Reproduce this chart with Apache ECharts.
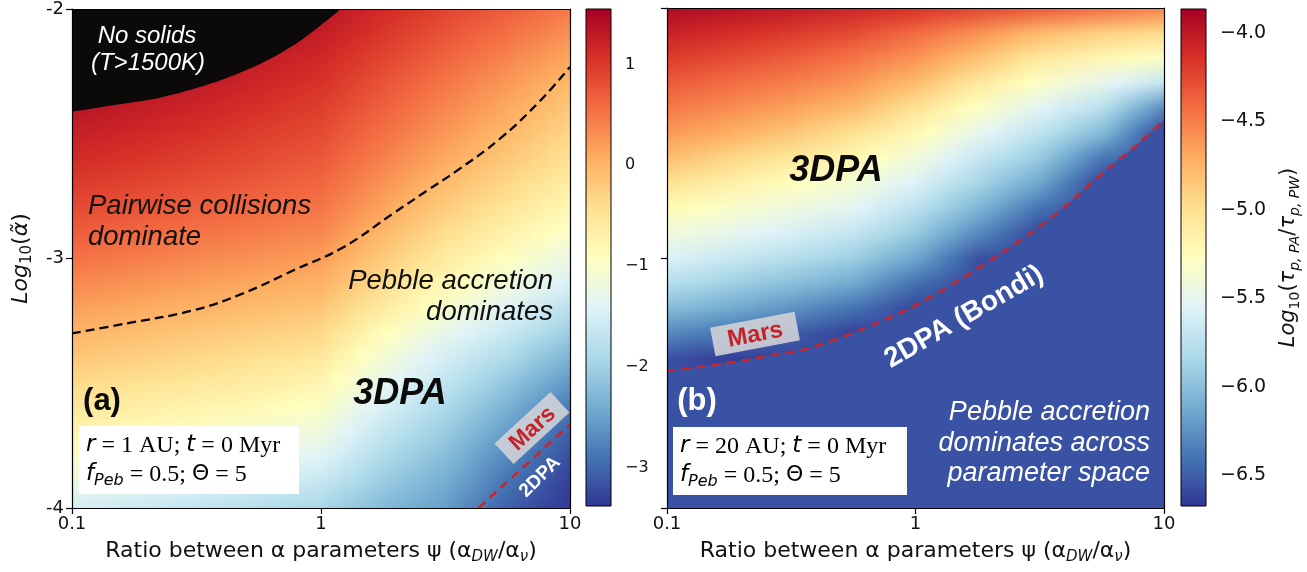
<!DOCTYPE html>
<html><head><meta charset="utf-8">
<script src="https://cdn.jsdelivr.net/npm/echarts@6.0.0/dist/echarts.min.js"></script>
<style>html,body{margin:0;padding:0;background:#fff;}#chart{width:1307px;height:572px;}</style>
</head><body><div id="chart"></div>
<script>
// ================= DATA =================
// log10(psi) columns of the sampled grid
const psiLogCols = [-1, -0.75, -0.5, -0.25, 0, 0.25, 0.5, 0.75, 1];
// log10(alpha) rows, top -> bottom
const alphaLogRows = [-2.0,-2.1,-2.2,-2.3,-2.4,-2.5,-2.6,-2.7,-2.8,-2.9,-3.0,-3.1,-3.2,-3.3,-3.4,-3.5,-3.6,-3.7,-3.8,-3.9,-4.0];

// Panel (a): log10(tau_PA/tau_PW), one list per psi column, values top -> bottom
const fieldA = [
  [1.66,1.60,1.53,1.44,1.34,1.23,1.11,0.98,0.84,0.69,0.53,0.36,0.18,0.00,-0.17,-0.36,-0.55,-0.77,-1.00,-1.25,-1.50],
  [1.60,1.53,1.46,1.36,1.26,1.15,1.03,0.90,0.76,0.61,0.45,0.28,0.10,-0.09,-0.26,-0.45,-0.65,-0.86,-1.09,-1.34,-1.60],
  [1.53,1.46,1.38,1.28,1.17,1.06,0.94,0.81,0.67,0.52,0.36,0.19,0.01,-0.17,-0.35,-0.54,-0.74,-0.95,-1.18,-1.43,-1.69],
  [1.44,1.36,1.26,1.16,1.06,0.95,0.84,0.72,0.59,0.44,0.28,0.11,-0.07,-0.25,-0.44,-0.63,-0.83,-1.04,-1.27,-1.53,-1.80],
  [1.35,1.25,1.14,1.04,0.94,0.84,0.73,0.62,0.50,0.36,0.20,0.03,-0.15,-0.35,-0.55,-0.76,-0.97,-1.18,-1.41,-1.66,-1.92],
  [1.12,1.01,0.89,0.77,0.66,0.54,0.42,0.28,0.14,-0.03,-0.20,-0.39,-0.60,-0.88,-1.10,-1.30,-1.49,-1.68,-1.87,-2.06,-2.25],
  [0.90,0.77,0.64,0.50,0.37,0.24,0.10,-0.06,-0.23,-0.41,-0.60,-0.80,-1.02,-1.30,-1.52,-1.70,-1.88,-2.06,-2.23,-2.39,-2.53],
  [0.69,0.54,0.38,0.23,0.10,-0.04,-0.18,-0.34,-0.52,-0.71,-0.92,-1.15,-1.39,-1.63,-1.88,-2.12,-2.34,-2.55,-2.74,-2.90,-3.05],
  [0.47,0.30,0.12,-0.04,-0.18,-0.32,-0.46,-0.62,-0.80,-1.00,-1.22,-1.48,-1.76,-2.04,-2.32,-2.60,-2.86,-3.05,-3.20,-3.30,-3.37]
];

// Panel (b): values top -> bottom (2DPA region below the boundary)
const fieldB = [
  [-3.92,-4.06,-4.20,-4.34,-4.48,-4.62,-4.79,-5.01,-5.21,-5.40,-5.57,-5.77,-6.01,-6.29,-6.55,-6.60,-6.60,-6.60,-6.60,-6.60,-6.60],
  [-3.97,-4.12,-4.27,-4.42,-4.56,-4.71,-4.93,-5.13,-5.32,-5.49,-5.67,-5.88,-6.11,-6.39,-6.63,-6.60,-6.60,-6.60,-6.60,-6.60,-6.60],
  [-4.02,-4.19,-4.35,-4.50,-4.65,-4.84,-5.05,-5.25,-5.42,-5.59,-5.78,-5.99,-6.24,-6.50,-6.60,-6.60,-6.60,-6.60,-6.60,-6.60,-6.60],
  [-4.08,-4.27,-4.45,-4.60,-4.77,-5.00,-5.19,-5.37,-5.52,-5.70,-5.90,-6.12,-6.40,-6.62,-6.60,-6.60,-6.60,-6.60,-6.60,-6.60,-6.60],
  [-4.15,-4.41,-4.59,-4.78,-5.01,-5.21,-5.40,-5.57,-5.75,-5.93,-6.14,-6.41,-6.60,-6.60,-6.60,-6.60,-6.60,-6.60,-6.60,-6.60,-6.60],
  [-4.24,-4.58,-4.81,-5.06,-5.29,-5.49,-5.68,-5.85,-6.05,-6.28,-6.55,-6.60,-6.60,-6.60,-6.60,-6.60,-6.60,-6.60,-6.60,-6.60,-6.60],
  [-4.33,-4.77,-5.06,-5.30,-5.53,-5.73,-5.93,-6.14,-6.40,-6.60,-6.60,-6.60,-6.60,-6.60,-6.60,-6.60,-6.60,-6.60,-6.60,-6.60,-6.60],
  [-4.42,-4.90,-5.19,-5.49,-5.76,-6.03,-6.37,-6.60,-6.60,-6.60,-6.60,-6.60,-6.60,-6.60,-6.60,-6.60,-6.60,-6.60,-6.60,-6.60,-6.60],
  [-4.52,-4.96,-5.31,-5.70,-6.28,-6.60,-6.60,-6.60,-6.60,-6.60,-6.60,-6.60,-6.60,-6.60,-6.60,-6.60,-6.60,-6.60,-6.60,-6.60,-6.60]
];
const twoDPAValueB = -6.55;

const rangeA = [-3.38, 1.55];
const rangeB = [-6.675, -3.864];

// curves [log10 psi, log10 alpha]
const noSolidsEdgeA = [[-1.0,-2.412],[-0.847,-2.388],[-0.647,-2.356],[-0.446,-2.30],[-0.245,-2.22],[-0.084,-2.128],[0.08,-2.0]];
const pebbleEdgeA = [[-1.0,-3.30],[-0.779,-3.26],[-0.514,-3.208],[-0.313,-3.14],[-0.112,-3.048],[0.088,-2.956],[0.289,-2.82],[0.426,-2.728],[0.546,-2.648],[0.719,-2.52],[0.88,-2.368],[1.0,-2.232]];
const marsLineA = [[0.633,-4.0],[1.0,-3.665]];
const marsLineB = [[-1.0,-3.452],[-0.839,-3.432],[-0.707,-3.412],[-0.574,-3.388],[-0.438,-3.364],[-0.305,-3.32],[-0.173,-3.268],[-0.036,-3.208],[0.096,-3.136],[0.229,-3.056],[0.365,-2.968],[0.498,-2.876],[0.631,-2.768],[0.767,-2.648],[0.9,-2.54],[1.0,-2.448]];

const xTickLabels = ['0.1', '1', '10'];
const yTickLabels = ['-4', '-3', '-2'];
const cbTicksA = [1, 0, -1, -2, -3];
const cbTicksB = [-4.0, -4.5, -5.0, -5.5, -6.0, -6.5];

// ================= STYLE / HELPERS =================
const RDYLBU = ['#a50026','#d73027','#f46d43','#fdae61','#fee090','#ffffbf','#e0f3f8','#abd9e9','#74add1','#4575b4','#313695']; // high -> low
function hex(c){return [parseInt(c.slice(1,3),16),parseInt(c.slice(3,5),16),parseInt(c.slice(5,7),16)];}
const RGB_LOW_HIGH = RDYLBU.slice().reverse().map(hex);
function cmap(v, range){
  let t = (v - range[0]) / (range[1] - range[0]);
  t = Math.max(0, Math.min(1, t));
  const s = t * 10, k = Math.min(9, Math.floor(s)), f = s - k;
  const a = RGB_LOW_HIGH[k], b = RGB_LOW_HIGH[k+1];
  return 'rgb(' + [0,1,2].map(j => Math.round(a[j] + (b[j]-a[j]) * f)).join(',') + ')';
}
const FT = '"DejaVu Sans", sans-serif';
const FA = '"Liberation Sans", Arial, sans-serif';
const FS = '"Liberation Serif", "Times New Roman", serif';
const AMAX = alphaLogRows[0], AMIN = alphaLogRows[alphaLogRows.length-1];

function fieldRenderer(field, range){
  return function(params, api){
    const i = api.value(2);
    const x0 = psiLogCols[i], x1 = psiLogCols[i+1];
    const N = 16, children = [];
    for (let k = 0; k < N; k++){
      const fa = k/N, fb = (k+1)/N, fm = (k+0.5)/N;
      const p0 = api.coord([x0 + (x1-x0)*fa, AMAX]);
      const p1 = api.coord([x0 + (x1-x0)*fb, AMIN]);
      const stops = alphaLogRows.map((a, r) => ({
        offset: (AMAX - a) / (AMAX - AMIN),
        color: cmap(field[i][r]*(1-fm) + field[i+1][r]*fm, range)
      }));
      children.push({type:'rect', shape:{x:p0[0]-0.4, y:p0[1], width:p1[0]-p0[0]+0.8, height:p1[1]-p0[1]},
        style:{fill:new echarts.graphic.LinearGradient(0,0,0,1,stops)}});
    }
    return {type:'group', children};
  };
}
function colorbarRenderer(range){
  return function(params, api){
    const p0 = api.coord([0, range[1]]), p1 = api.coord([1, range[0]]);
    const stops = RDYLBU.map((c, i) => ({offset: i/10, color: c}));
    return {type:'rect', shape:{x:p0[0], y:p0[1], width:p1[0]-p0[0], height:p1[1]-p0[1]},
      style:{fill:new echarts.graphic.LinearGradient(0,0,0,1,stops), stroke:'#000', lineWidth:1}};
  };
}
const colItems = psiLogCols.slice(0,-1).map((p,i) => [p, psiLogCols[i+1], i]);

const subRich = {
  n:{fontSize:22, fontFamily:FT, lineHeight:28, color:'#111'},
  s:{fontSize:15, fontFamily:FT, fontStyle:'italic', lineHeight:15, verticalAlign:'bottom', color:'#111'}
};
function xAxisMain(gi){
  return {type:'value', gridIndex:gi, min:-1, max:1, interval:1, z:10,
    axisLine:{show:true, onZero:false, lineStyle:{color:'#000', width:1.2}},
    axisTick:{show:true, length:6, lineStyle:{color:'#000', width:1.2}},
    axisLabel:{show:true, margin:7, color:'#111', fontSize:18, fontFamily:FT,
      formatter:v => xTickLabels[Math.round(v)+1]},
    splitLine:{show:false},
    name:'{n|Ratio between α parameters ψ (α}{s|DW}{n|/α}{s|ν}{n|)}',
    nameLocation:'middle', nameGap:29, nameTextStyle:{rich:subRich, fontSize:22, fontFamily:FT, color:'#111'}};
}
function xAxisTop(gi){
  return {type:'value', gridIndex:gi, position:'top', min:-1, max:1, z:10,
    axisLine:{show:true, onZero:false, lineStyle:{color:'#000', width:1.2}},
    axisTick:{show:false}, axisLabel:{show:false}, splitLine:{show:false}};
}
function yAxisSide(gi, pos){
  return {type:'value', gridIndex:gi, position:pos, min:-4, max:-2, z:10,
    axisLine:{show:true, onZero:false, lineStyle:{color:'#000', width:1.2}},
    axisTick:{show:false}, axisLabel:{show:false}, splitLine:{show:false}};
}
function txt(x, y, text, o){
  return Object.assign({type:'text', x, y, z:100}, {rotation:o.rotation||0,
    style:{text, fill:o.fill||'#111', fontSize:o.size, fontStyle:o.italic?'italic':'normal',
      fontWeight:o.bold?'bold':'normal', fontFamily:o.family||FA, align:o.align||'center', verticalAlign:'middle'}});
}
function infoBox(x, y, w, line1){
  return {type:'group', x, y, z:100, children:[
    {type:'rect', z:100, shape:{x:0, y:0, width:w, height:68}, style:{fill:'#fff'}},
    {type:'text', z:101, x:7, y:34, style:{
      text:line1 + '\n{i|f}{b|Peb}{m| = 0.5; }{g|Θ}{m| = 5}',
      verticalAlign:'middle', align:'left',
      rich:{
        i:{fontFamily:FT, fontStyle:'italic', fontSize:23, lineHeight:29, fill:'#000'},
        m:{fontFamily:FS, fontSize:24, lineHeight:29, fill:'#000'},
        b:{fontFamily:FT, fontStyle:'italic', fontSize:16, lineHeight:16, verticalAlign:'bottom', fill:'#000'},
        g:{fontFamily:FT, fontSize:22, lineHeight:29, fill:'#000'}}}}
  ]};
}
function marsTag(x, y, rot, w, h, size){
  return {type:'group', x, y, z:100, rotation:rot, children:[
    {type:'rect', z:100, shape:{x:-w/2, y:-h/2, width:w, height:h}, style:{fill:'rgba(212,212,215,0.88)'}},
    {type:'text', z:101, x:0, y:1, style:{text:'Mars', fill:'#c3242b', fontSize:size, fontWeight:'bold', fontFamily:FA, align:'center', verticalAlign:'middle'}}
  ]};
}

const option = {
  animation:false,
  backgroundColor:'#fff',
  grid:[
    {left:72, top:8, width:498, height:500},
    {left:586, top:9, width:25, height:497},
    {left:667, top:8, width:497, height:500},
    {left:1181, top:9, width:25, height:497}
  ],
  xAxis:[
    xAxisMain(0), xAxisTop(0),
    {type:'value', gridIndex:1, min:0, max:1, show:false},
    xAxisMain(2), xAxisTop(2),
    {type:'value', gridIndex:3, min:0, max:1, show:false}
  ],
  yAxis:[
    {type:'value', gridIndex:0, min:-4, max:-2, interval:1, z:10,
      axisLine:{show:true, onZero:false, lineStyle:{color:'#000', width:1.2}},
      axisTick:{show:true, length:6, lineStyle:{color:'#000', width:1.2}},
      axisLabel:{show:true, margin:8, color:'#111', fontSize:18, fontFamily:FT,
        formatter:v => yTickLabels[Math.round(v)+4]},
      splitLine:{show:false},
      name:'{i|Log}{u|10}{n|(}{i|α̃}{n|)}', nameLocation:'middle', nameGap:37, nameRotate:90,
      nameTextStyle:{rich:{
        i:{fontSize:22, fontFamily:FT, fontStyle:'italic', lineHeight:27, color:'#111'},
        n:{fontSize:22, fontFamily:FT, lineHeight:27, color:'#111'},
        u:{fontSize:15, fontFamily:FT, lineHeight:15, verticalAlign:'bottom', color:'#111'}}}},
    yAxisSide(0,'right'),
    {type:'value', gridIndex:1, position:'right', min:rangeA[0], max:rangeA[1],
      axisLine:{show:false},
      axisTick:{show:true, customValues:cbTicksA, length:6, lineStyle:{color:'#000', width:1.2}},
      axisLabel:{show:true, customValues:cbTicksA, margin:14, color:'#111', fontSize:16, fontFamily:FT,
        formatter:v => (v < 0 ? '\u2212' : '') + Math.abs(v)},
      splitLine:{show:false}},
    {type:'value', gridIndex:2, min:-4, max:-2, interval:1, z:10,
      axisLine:{show:true, onZero:false, lineStyle:{color:'#000', width:1.2}},
      axisTick:{show:true, length:6, lineStyle:{color:'#000', width:1.2}},
      axisLabel:{show:false}, splitLine:{show:false}},
    yAxisSide(2,'right'),
    {type:'value', gridIndex:3, position:'right', min:rangeB[0], max:rangeB[1],
      axisLine:{show:false},
      axisTick:{show:true, customValues:cbTicksB, length:6, lineStyle:{color:'#000', width:1.2}},
      axisLabel:{show:true, customValues:cbTicksB, margin:14, color:'#111', fontSize:19, fontFamily:FT,
        formatter:v => '\u2212' + Math.abs(v).toFixed(1)},
      splitLine:{show:false},
      name:'{i|Log}{u|10}{n|(}{i|τ}{s|p, PA}{n|/}{i|τ}{s|p, PW}{n|)}', nameLocation:'middle', nameGap:70, nameRotate:90,
      nameTextStyle:{rich:{
        i:{fontSize:21, fontFamily:FT, fontStyle:'italic', lineHeight:26, color:'#111'},
        n:{fontSize:21, fontFamily:FT, lineHeight:26, color:'#111'},
        u:{fontSize:14, fontFamily:FT, lineHeight:14, verticalAlign:'bottom', color:'#111'},
        s:{fontSize:14, fontFamily:FT, fontStyle:'italic', lineHeight:14, verticalAlign:'bottom', color:'#111'}}}}
  ],
  series:[
    {type:'custom', name:'fieldA', xAxisIndex:0, yAxisIndex:0, clip:true, z:2,
      renderItem:fieldRenderer(fieldA, rangeA), data:colItems},
    {type:'line', name:'noSolids', xAxisIndex:0, yAxisIndex:0, data:noSolidsEdgeA, symbol:'none', smooth:0.3, z:3,
      lineStyle:{width:0}, areaStyle:{color:'#0b0a08', opacity:1, origin:'end'}},
    {type:'line', name:'pebbleEdge', xAxisIndex:0, yAxisIndex:0, data:pebbleEdgeA, symbol:'none', smooth:0.4, z:4,
      lineStyle:{color:'#000', width:2.3, type:[9,5]}},
    {type:'line', name:'marsA', xAxisIndex:0, yAxisIndex:0, data:marsLineA, symbol:'none', z:4,
      lineStyle:{color:'#c9262c', width:2.6, type:[9,6]}},
    {type:'custom', name:'cbA', xAxisIndex:2, yAxisIndex:2, z:2,
      renderItem:colorbarRenderer(rangeA), data:[[0.5, 0]]},
    {type:'custom', name:'fieldB', xAxisIndex:3, yAxisIndex:3, clip:true, z:2,
      renderItem:fieldRenderer(fieldB, rangeB), data:colItems},
    {type:'line', name:'twoDPA', xAxisIndex:3, yAxisIndex:3, data:marsLineB, symbol:'none', smooth:0.3, z:3,
      lineStyle:{width:0}, areaStyle:{color:cmap(twoDPAValueB, rangeB), opacity:1, origin:'start'}},
    {type:'line', name:'marsB', xAxisIndex:3, yAxisIndex:3, data:marsLineB, symbol:'none', smooth:0.3, z:4,
      lineStyle:{color:'#c9262c', width:2.6, type:[9,6]}},
    {type:'custom', name:'cbB', xAxisIndex:5, yAxisIndex:5, z:2,
      renderItem:colorbarRenderer(rangeB), data:[[0.5, -5]]}
  ],
  graphic:[
    // panel (a)
    txt(147, 36, 'No solids', {fill:'#fff', size:24, italic:true}),
    txt(148, 63, '(T>1500K)', {fill:'#fff', size:24, italic:true}),
    txt(88, 206, 'Pairwise collisions', {size:27.5, italic:true, align:'left'}),
    txt(88, 237, 'dominate', {size:27.5, italic:true, align:'left'}),
    txt(553, 281, 'Pebble accretion', {size:27.5, italic:true, align:'right'}),
    txt(553, 312, 'dominates', {size:27.5, italic:true, align:'right'}),
    txt(400, 394, '3DPA', {fill:'#0a0a0a', size:36, italic:true, bold:true}),
    txt(102, 401, '(a)', {fill:'#0a0a0a', size:31, bold:true}),
    infoBox(79, 426, 220, '{i|r}{m| = 1 AU; }{i|t}{m| = 0 Myr}'),
    marsTag(532, 428, 0.744, 76, 28, 23),
    txt(540, 477, '2DPA', {fill:'#fff', size:19, bold:true, rotation:0.785}),
    // panel (b)
    txt(836, 171, '3DPA', {fill:'#0a0a0a', size:36, italic:true, bold:true}),
    marsTag(755, 334, 0.187, 86, 29, 24),
    txt(964, 317, '2DPA (Bondi)', {fill:'#fff', size:28, bold:true, rotation:0.524}),
    txt(697, 401, '(b)', {fill:'#fff', size:31, bold:true}),
    txt(1150, 412, 'Pebble accretion', {fill:'#fff', size:27, italic:true, align:'right'}),
    txt(1150, 443, 'dominates across', {fill:'#fff', size:27, italic:true, align:'right'}),
    txt(1150, 473, 'parameter space', {fill:'#fff', size:27, italic:true, align:'right'}),
    infoBox(673, 427, 234, '{i|r}{m| = 20 AU; }{i|t}{m| = 0 Myr}')
  ]
};
const chart = echarts.init(document.getElementById('chart'), null, {renderer:'canvas'});
chart.setOption(option);
</script></body></html>
